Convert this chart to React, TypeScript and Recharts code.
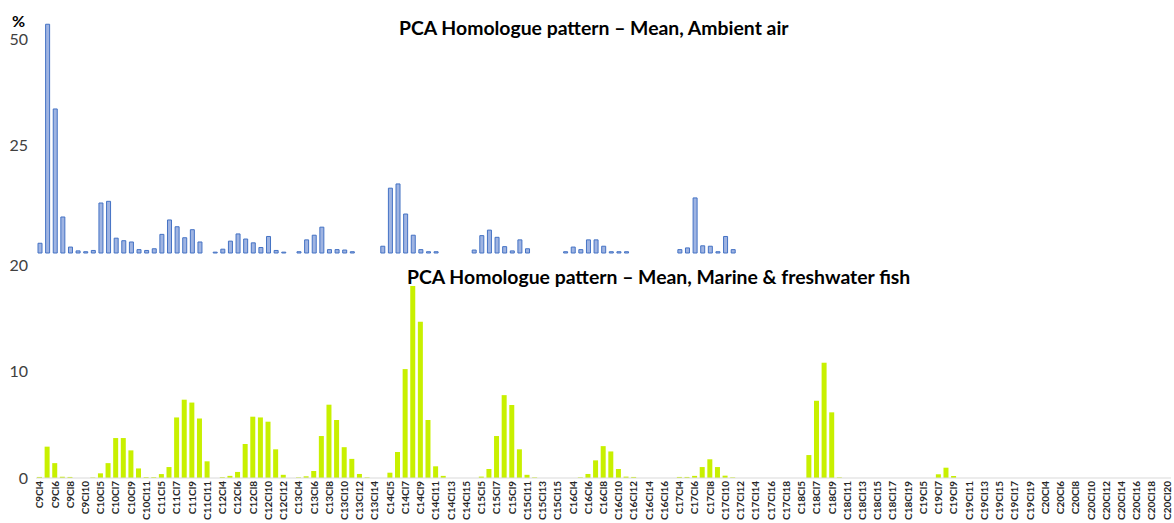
import { BarChart, Bar, XAxis, YAxis } from 'recharts'

// carbon chain, first and last chlorine count of each homologue group
const chains: [number, number, number][] = [
    [9, 4, 10], [10, 4, 11], [11, 4, 12], [12, 4, 13], [13, 4, 14], [14, 4, 15],
    [15, 4, 16], [16, 4, 17], [17, 4, 18], [18, 4, 19], [19, 4, 20], [20, 4, 20],
]

const categories: string[] = []
chains.forEach(([c, from, to]) => {
    for (let cl = from; cl <= to; cl++) categories.push(`C${c}Cl${cl}`)
})

// % per homologue, one line per carbon chain
const ambientAir = [
    2.3, 54, 34, 8.5, 1.4, 0.5, 0.3,
    0.6, 11.8, 12.2, 3.5, 2.9, 2.6, 0.8, 0.6,
    1.0, 4.4, 7.8, 6.2, 3.6, 5.5, 2.6, 0, 0.2,
    0.9, 2.8, 4.5, 3.3, 2.4, 1.3, 3.9, 0.6, 0.2, 0,
    0.3, 3.1, 4.2, 6.1, 0.8, 0.8, 0.7, 0.3, 0, 0, 0,
    1.6, 15.3, 16.3, 9.2, 4.2, 0.8, 0.3, 0.3, 0, 0, 0, 0,
    0.7, 4.1, 5.4, 3.7, 1.5, 0.5, 3.1, 1.0, 0, 0, 0, 0, 0.3,
    1.4, 0.8, 3.1, 3.1, 1.6, 0.3, 0.3, 0.3, 0, 0, 0, 0, 0, 0,
    0.8, 1.2, 13, 1.7, 1.6, 0.3, 3.9, 0.8, 0, 0, 0, 0, 0, 0, 0,
    0, 0, 0, 0, 0, 0, 0, 0, 0, 0, 0, 0, 0, 0, 0, 0,
    0, 0, 0, 0, 0, 0, 0, 0, 0, 0, 0, 0, 0, 0, 0, 0, 0,
    0, 0, 0, 0, 0, 0, 0, 0, 0, 0, 0, 0, 0, 0, 0, 0, 0,
]

const fish = [
    0.1, 2.95, 1.4, 0.12, 0.1, 0, 0,
    0.05, 0.44, 1.4, 3.76, 3.76, 2.6, 0.9, 0.08,
    0.08, 0.37, 1.03, 5.7, 7.37, 7.1, 5.6, 1.57, 0,
    0.08, 0.2, 0.57, 3.2, 5.77, 5.7, 5.3, 2.7, 0.3, 0,
    0.06, 0.16, 0.66, 3.95, 6.9, 5.46, 2.9, 1.8, 0.38, 0.06, 0,
    0, 0.5, 2.45, 10.25, 18.06, 14.7, 5.46, 1.1, 0.2, 0, 0, 0,
    0, 0.13, 0.85, 3.95, 7.8, 6.87, 2.7, 0.3, 0.06, 0, 0, 0, 0,
    0, 0.06, 0.38, 1.66, 3.0, 2.5, 0.85, 0.13, 0.1, 0, 0, 0, 0, 0,
    0.1, 0.1, 0.2, 1.03, 1.76, 1.03, 0.22, 0.06, 0, 0, 0, 0, 0, 0, 0,
    0, 0, 2.16, 7.27, 10.85, 6.18, 0.06, 0, 0, 0, 0, 0, 0, 0, 0, 0,
    0, 0, 0, 0.35, 0.97, 0.19, 0, 0, 0, 0, 0, 0, 0, 0, 0, 0, 0,
    0, 0, 0, 0, 0, 0, 0, 0, 0, 0, 0, 0, 0, 0, 0, 0, 0,
]

const airTicks = [0, 25, 50]
const fishTicks = [0, 10, 20]

const rows = categories.map((name, i) => ({ name, air: ambientAir[i], fish: fish[i] }))

const font = 'Lato, "Open Sans", sans-serif'

const titleStyle: React.CSSProperties = {
    position: 'absolute',
    fontFamily: font,
    fontWeight: 700,
    fontSize: 19.4,
    lineHeight: '20px',
    color: '#000',
    whiteSpace: 'nowrap',
}

function RotatedTick(props: any) {
    const { x, y, payload } = props
    return (
        <text
            x={x}
            y={y}
            transform={`rotate(-90, ${x}, ${y})`}
            textAnchor="end"
            dy="0.35em"
            fontSize={10}
            fontWeight={700}
            fontFamily={font}
            fill="#262626"
        >
            {payload.value}
        </text>
    )
}

export default function App() {
    return (
        <div style={{ position: 'absolute', left: 0, top: 0, width: 1174, height: 523, background: '#fff', overflow: 'hidden' }}>
            <BarChart
                width={1174}
                height={258}
                data={rows}
                margin={{ top: 20, right: 3, bottom: 5, left: 6 }}
                barCategoryGap={0}
                style={{ position: 'absolute', left: 0, top: 0 }}
            >
                <XAxis dataKey="name" hide />
                <YAxis
                    width={30}
                    domain={[0, 55]}
                    ticks={airTicks}
                    axisLine={false}
                    tickLine={false}
                    tick={{ fontSize: 16, fill: '#404040', fontFamily: font, dy: -2 }}
                />
                <Bar dataKey="air" fill="#9FB4E2" stroke="#4472C4" strokeWidth={1} barSize={4} isAnimationActive={false} />
            </BarChart>

            <BarChart
                width={1174}
                height={268}
                data={rows}
                margin={{ top: 10.5, right: 3, bottom: 0, left: 6 }}
                barCategoryGap={0}
                style={{ position: 'absolute', left: 0, top: 255 }}
            >
                <XAxis
                    dataKey="name"
                    height={45}
                    interval={1}
                    tickLine={false}
                    axisLine={{ stroke: '#D9D9D9' }}
                    tick={<RotatedTick />}
                    tickSize={0}
                    tickMargin={3}
                />
                <YAxis
                    width={30}
                    domain={[0, 20]}
                    ticks={fishTicks}
                    axisLine={false}
                    tickLine={false}
                    tick={{ fontSize: 16, fill: '#404040', fontFamily: font }}
                />
                <Bar dataKey="fish" fill="#C8F000" barSize={5} isAnimationActive={false} />
            </BarChart>

            <div style={{ ...titleStyle, left: 12, top: 11, fontSize: 16 }}>%</div>
            <div style={{ ...titleStyle, left: 399, top: 18 }}>PCA Homologue pattern – Mean, Ambient air</div>
            <div style={{ ...titleStyle, left: 407, top: 267 }}>PCA Homologue pattern – Mean, Marine &amp; freshwater fish</div>
        </div>
    )
}
